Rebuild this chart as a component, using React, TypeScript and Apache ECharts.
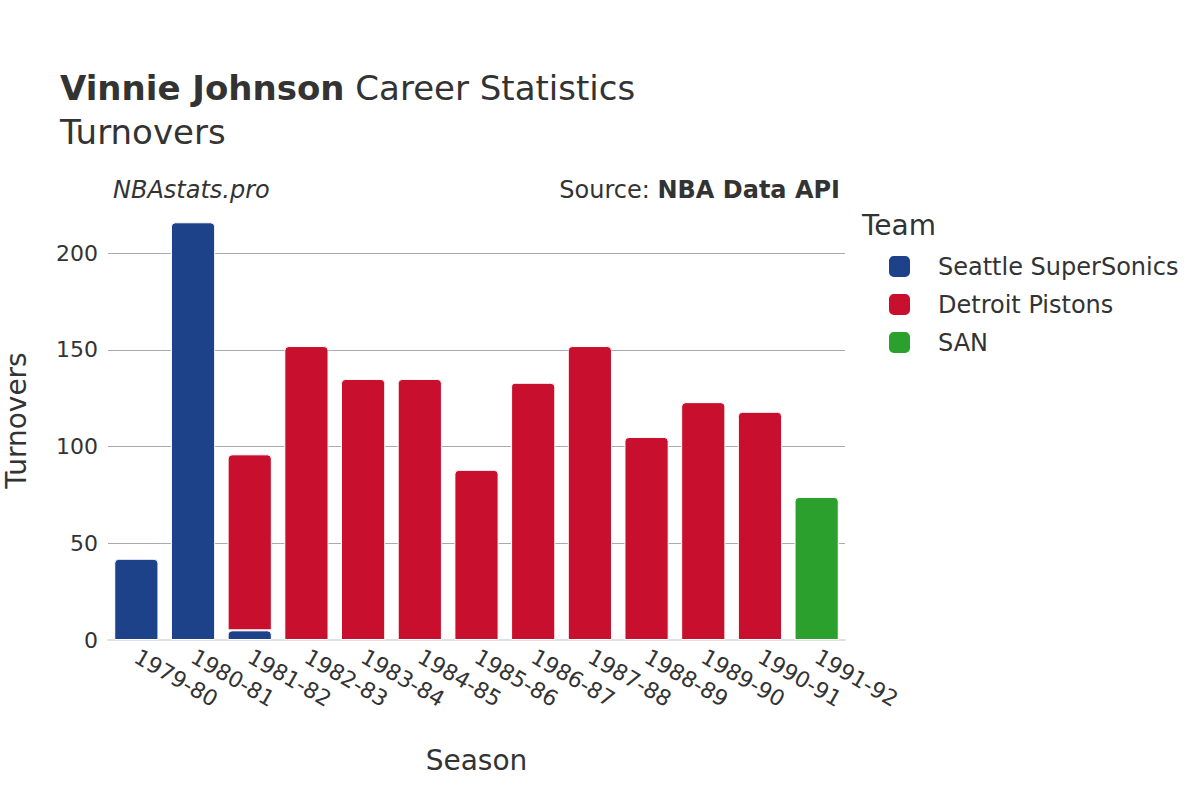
import React, { useEffect, useRef } from "react";
import * as echarts from "echarts";

const seasons = ["1979-80", "1980-81", "1981-82", "1982-83", "1983-84", "1984-85", "1985-86", "1986-87", "1987-88", "1988-89", "1989-90", "1990-91", "1991-92"];
const seattle = [42, 216, 5, null, null, null, null, null, null, null, null, null, null];
const detroit = [null, null, 91, 152, 135, 135, 88, 133, 152, 105, 123, 118, null];
const san = [null, null, null, null, null, null, null, null, null, null, null, null, 74];
const yTicks = [0, 50, 100, 150, 200];

const FONT = "DejaVu Sans";

export default function App() {
  const ref = useRef<HTMLDivElement>(null);
  useEffect(() => {
    if (!ref.current) return;
    const chart = echarts.init(ref.current, undefined, { renderer: "svg" });
    const mk = (name: string, data: (number | null)[], color: string) => ({
      name,
      type: "bar",
      stack: "t",
      data,
      barCategoryGap: "22%",
      itemStyle: { color, borderRadius: [4, 4, 0, 0], borderColor: "#fff", borderWidth: 1 },
    });
    chart.setOption({
      animation: false,
      textStyle: { fontFamily: FONT },
      grid: { left: 108, right: 355, top: 201, bottom: 160, containLabel: false, outerBoundsMode: "none" },
      graphic: [
        {
          type: "text",
          left: 60,
          top: 71,
          style: {
            text: "{b|Vinnie Johnson}{n| Career Statistics}",
            rich: {
              b: { fontFamily: FONT, fontSize: 34, fontWeight: "bold", fill: "#333" },
              n: { fontFamily: FONT, fontSize: 34, fill: "#333" },
            },
          },
        },
        { type: "text", left: 60, top: 115, style: { text: "Turnovers", fontFamily: FONT, fontSize: 34, fill: "#333" } },
        { type: "text", left: 113, top: 178, style: { text: "NBAstats.pro", fontFamily: FONT, fontSize: 24, fontStyle: "italic", fill: "#333" } },
        {
          type: "text",
          right: 360,
          top: 178,
          style: {
            text: "{n|Source: }{b|NBA Data API}",
            align: "right",
            rich: {
              n: { fontFamily: FONT, fontSize: 24, fill: "#333" },
              b: { fontFamily: FONT, fontSize: 24, fontWeight: "bold", fill: "#333" },
            },
          },
        },
        { type: "text", left: 862, top: 211, style: { text: "Team", fontFamily: FONT, fontSize: 28, fill: "#333" } },
      ],
      legend: {
        orient: "vertical",
        left: 887,
        top: 254,
        padding: 0,
        itemWidth: 23,
        itemHeight: 23,
        itemGap: 13,
        icon: "roundRect",
        textStyle: { fontFamily: FONT, fontSize: 24, color: "#333", padding: [0, 0, 0, 22] },
        data: ["Seattle SuperSonics", "Detroit Pistons", "SAN"],
      },
      xAxis: {
        type: "category",
        data: seasons,
        name: "Season",
        nameLocation: "middle",
        nameGap: 106,
        nameTextStyle: { fontFamily: FONT, fontSize: 28, color: "#333" },
        axisLine: { show: true, lineStyle: { color: "#e0e0e0", width: 2 } },
        axisTick: { show: false },
        axisLabel: { rotate: -30, fontFamily: FONT, fontSize: 22, color: "#333", margin: 15, interval: 0 },
      },
      yAxis: {
        type: "value",
        min: 0,
        max: 227,
        interval: 50,
        name: "Turnovers",
        nameLocation: "middle",
        nameGap: 78,
        nameTextStyle: { fontFamily: FONT, fontSize: 28, color: "#333" },
        axisLine: { show: false },
        axisTick: { show: false },
        axisLabel: {
          fontFamily: FONT,
          fontSize: 22,
          color: "#333",
          margin: 10,
          formatter: (v: number) => (yTicks.includes(v) ? String(v) : ""),
        },
        splitLine: { showMaxLine: false, showMinLine: false, lineStyle: { color: "#aaa", width: 1 } },
      },
      series: [
        mk("Seattle SuperSonics", seattle, "#1d428a"),
        mk("Detroit Pistons", detroit, "#c8102e"),
        mk("SAN", san, "#2ca02c"),
      ],
    });
    return () => chart.dispose();
  }, []);
  return <div ref={ref} style={{ width: 1200, height: 800, position: "absolute", left: 0, top: 0 }} />;
}
